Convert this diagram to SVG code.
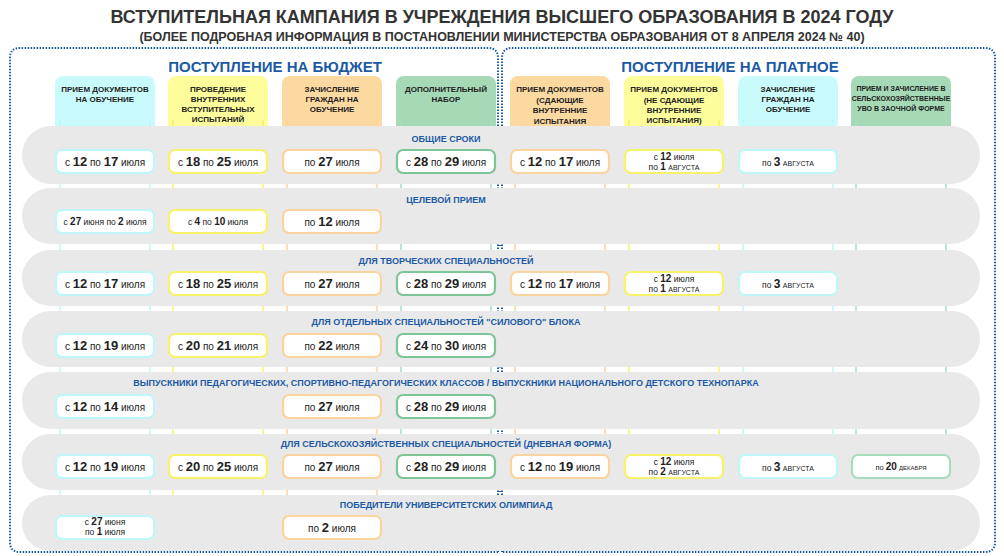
<svg xmlns="http://www.w3.org/2000/svg" width="1004" height="556" viewBox="0 0 1004 556">
<style>
text{font-family:"Liberation Sans",Arial,sans-serif;fill:#222}
.t1{font-size:18px;font-weight:bold;fill:#333}
.t2{font-size:12.5px;font-weight:bold;fill:#333}
.sec{font-size:15px;font-weight:bold;fill:#1c5aa6}
.hd{font-size:8px;font-weight:bold;text-anchor:middle}
.rt{font-size:9px;font-weight:bold;fill:#1c5aa6;text-anchor:middle}
.band{fill:#e9e9e9}
.b{fill:#fff;stroke-width:2.2}
.c{stroke:#bff6f8}.y{stroke:#f6f26a}.o{stroke:#fbd39e}.g{stroke:#7cc597}.gl{stroke:#a9dcbc}
.d{font-size:10px;text-anchor:middle}
.d tspan.n{font-size:13px;font-weight:bold}
.s{font-size:8.5px;text-anchor:middle}
.s tspan.n{font-size:10px;font-weight:bold}
.m{font-size:7px}
.vl{stroke-width:1.5}
.dot{fill:none;stroke:#1c5aa6;stroke-width:2;stroke-dasharray:1.5 1.5}
</style>
<rect width="1004" height="556" fill="#fff"/>
<text class="t1" x="502" y="23" text-anchor="middle">ВСТУПИТЕЛЬНАЯ КАМПАНИЯ В УЧРЕЖДЕНИЯ ВЫСШЕГО ОБРАЗОВАНИЯ В 2024 ГОДУ</text>
<text class="t2" x="502" y="41" text-anchor="middle">(БОЛЕЕ ПОДРОБНАЯ ИНФОРМАЦИЯ В ПОСТАНОВЛЕНИИ МИНИСТЕРСТВА ОБРАЗОВАНИЯ ОТ 8 АПРЕЛЯ 2024 № 40)</text>
<g id="panels">
<path class="dot" d="M498 552 V58 Q498 48 488 48 H20 Q10 48 10 58 V542 Q10 552 20 552 H498"/>
<path class="dot" d="M502 552 V58 Q502 48 512 48 H985 Q995 48 995 58 V542 Q995 552 985 552 H502"/>
<text class="sec" x="275" y="72" text-anchor="middle">ПОСТУПЛЕНИЕ НА БЮДЖЕТ</text>
<text class="sec" x="730" y="72" text-anchor="middle">ПОСТУПЛЕНИЕ НА ПЛАТНОЕ</text>
</g>
<g id="headers">
<g id="h1"><rect x="55" y="76" width="100" height="70" rx="8" fill="#c9fbfc"/><line class="vl c" x1="60" y1="120" x2="60" y2="540"/><line class="vl c" x1="150" y1="120" x2="150" y2="540"/><text class="hd" x="105" y="92">ПРИЕМ ДОКУМЕНТОВ<tspan x="105" dy="10">НА ОБУЧЕНИЕ</tspan></text></g>
<g id="h2"><rect x="168" y="76" width="100" height="70" rx="8" fill="#fdfd9c"/><line class="vl y" x1="173" y1="120" x2="173" y2="500"/><line class="vl y" x1="263" y1="120" x2="263" y2="500"/><text class="hd" x="218" y="92">ПРОВЕДЕНИЕ<tspan x="218" dy="10">ВНУТРЕННИХ</tspan><tspan x="218" dy="10">ВСТУПИТЕЛЬНЫХ</tspan><tspan x="218" dy="10">ИСПЫТАНИЙ</tspan></text></g>
<g id="h3"><rect x="282" y="76" width="100" height="70" rx="8" fill="#fdd9a2"/><line class="vl o" x1="287" y1="120" x2="287" y2="540"/><line class="vl o" x1="377" y1="120" x2="377" y2="540"/><text class="hd" x="332" y="92">ЗАЧИСЛЕНИЕ<tspan x="332" dy="10">ГРАЖДАН НА</tspan><tspan x="332" dy="10">ОБУЧЕНИЕ</tspan></text></g>
<g id="h4"><rect x="396" y="76" width="100" height="70" rx="8" fill="#a6d9b6"/><line class="vl gl" x1="401" y1="120" x2="401" y2="480"/><line class="vl gl" x1="491" y1="120" x2="491" y2="480"/><text class="hd" x="446" y="92">ДОПОЛНИТЕЛЬНЫЙ<tspan x="446" dy="10">НАБОР</tspan></text></g>
<g id="h5"><rect x="510" y="76" width="100" height="70" rx="8" fill="#fdd9a2"/><line class="vl o" x1="515" y1="120" x2="515" y2="480"/><line class="vl o" x1="605" y1="120" x2="605" y2="480"/><text class="hd" x="560" y="92">ПРИЕМ ДОКУМЕНТОВ<tspan x="560" dy="11">(СДАЮЩИЕ</tspan><tspan x="560" dy="10">ВНУТРЕННИЕ</tspan><tspan x="560" dy="11">ИСПЫТАНИЯ</tspan></text></g>
<g id="h6"><rect x="624" y="76" width="100" height="70" rx="8" fill="#fdfd9c"/><line class="vl y" x1="629" y1="120" x2="629" y2="480"/><line class="vl y" x1="719" y1="120" x2="719" y2="480"/><text class="hd" x="674" y="92">ПРИЕМ ДОКУМЕНТОВ<tspan x="674" dy="11">(НЕ СДАЮЩИЕ</tspan><tspan x="674" dy="10">ВНУТРЕННИЕ</tspan><tspan x="674" dy="10">ИСПЫТАНИЯ)</tspan></text></g>
<g id="h7"><rect x="738" y="76" width="100" height="70" rx="8" fill="#c9fbfc"/><line class="vl c" x1="743" y1="120" x2="743" y2="480"/><line class="vl c" x1="833" y1="120" x2="833" y2="480"/><text class="hd" x="788" y="92">ЗАЧИСЛЕНИЕ<tspan x="788" dy="10">ГРАЖДАН НА</tspan><tspan x="788" dy="10">ОБУЧЕНИЕ</tspan></text></g>
<g id="h8"><rect x="851" y="76" width="100" height="70" rx="8" fill="#a6d9b6"/><line class="vl gl" x1="856" y1="120" x2="856" y2="480"/><line class="vl gl" x1="946" y1="120" x2="946" y2="480"/><text class="hd" x="901" y="91" style="font-size:7px">ПРИЕМ И ЗАЧИСЛЕНИЕ В<tspan x="901" dy="10">СЕЛЬСКОХОЗЯЙСТВЕННЫЕ</tspan><tspan x="901" dy="10">УВО  В ЗАОЧНОЙ ФОРМЕ</tspan></text></g>
</g>
<g id="connectors">
<path class="dot" d="M500 236 V246 M500 360 V369 M500 482 V492"/>
</g>
<g id="row1"><rect class="band" x="22" y="126" width="958" height="58" rx="29"/><text class="rt" x="446" y="142">ОБЩИЕ СРОКИ</text>
<rect class="b c" x="56" y="150" width="98" height="23" rx="6"/><text class="d" x="105" y="166">с <tspan class="n">12</tspan> по <tspan class="n">17</tspan> июля</text>
<rect class="b y" x="169" y="150" width="98" height="23" rx="6"/><text class="d" x="218" y="166">с <tspan class="n">18</tspan> по <tspan class="n">25</tspan> июля</text>
<rect class="b o" x="283" y="150" width="98" height="23" rx="6"/><text class="d" x="332" y="166">по <tspan class="n">27</tspan> июля</text>
<rect class="b g" x="397" y="150" width="98" height="23" rx="6"/><text class="d" x="446" y="166">с <tspan class="n">28</tspan> по <tspan class="n">29</tspan> июля</text>
<rect class="b o" x="511" y="150" width="98" height="23" rx="6"/><text class="d" x="560" y="166">с <tspan class="n">12</tspan> по <tspan class="n">17</tspan> июля</text>
<rect class="b y" x="625" y="150" width="98" height="23" rx="6"/><text class="s" x="674" y="160">с <tspan class="n">12</tspan> июля<tspan x="674" dy="10">по </tspan><tspan class="n">1</tspan> <tspan class="m">АВГУСТА</tspan></text>
<rect class="b c" x="739" y="150" width="98" height="23" rx="6"/><text class="s" x="788" y="166">по <tspan class="n" style="font-size:12px">3</tspan> <tspan class="m">АВГУСТА</tspan></text>
</g>
<g id="row2"><rect class="band" x="22" y="188" width="958" height="56" rx="28"/><text class="rt" x="446" y="203">ЦЕЛЕВОЙ ПРИЕМ</text>
<rect class="b c" x="56" y="210" width="98" height="23" rx="6"/><text class="s" x="105" y="225">с <tspan class="n">27</tspan> июня по <tspan class="n">2</tspan> июля</text>
<rect class="b y" x="169" y="210" width="98" height="23" rx="6"/><text class="s" x="218" y="225">с <tspan class="n">4</tspan>  по <tspan class="n">10</tspan> июля</text>
<rect class="b o" x="283" y="210" width="98" height="23" rx="6"/><text class="d" x="332" y="226">по <tspan class="n">12</tspan> июля</text>
</g>
<g id="row3"><rect class="band" x="22" y="250" width="958" height="56" rx="28"/><text class="rt" x="446" y="264">ДЛЯ ТВОРЧЕСКИХ СПЕЦИАЛЬНОСТЕЙ</text>
<rect class="b c" x="56" y="272" width="98" height="23" rx="6"/><text class="d" x="105" y="288">с <tspan class="n">12</tspan> по <tspan class="n">17</tspan> июля</text>
<rect class="b y" x="169" y="272" width="98" height="23" rx="6"/><text class="d" x="218" y="288">с <tspan class="n">18</tspan> по <tspan class="n">25</tspan> июля</text>
<rect class="b o" x="283" y="272" width="98" height="23" rx="6"/><text class="d" x="332" y="288">по <tspan class="n">27</tspan> июля</text>
<rect class="b g" x="397" y="272" width="98" height="23" rx="6"/><text class="d" x="446" y="288">с <tspan class="n">28</tspan> по <tspan class="n">29</tspan> июля</text>
<rect class="b o" x="511" y="272" width="98" height="23" rx="6"/><text class="d" x="560" y="288">с <tspan class="n">12</tspan> по <tspan class="n">17</tspan> июля</text>
<rect class="b y" x="625" y="272" width="98" height="23" rx="6"/><text class="s" x="674" y="282">с <tspan class="n">12</tspan> июля<tspan x="674" dy="10">по </tspan><tspan class="n">1</tspan> <tspan class="m">АВГУСТА</tspan></text>
<rect class="b c" x="739" y="272" width="98" height="23" rx="6"/><text class="s" x="788" y="288">по <tspan class="n" style="font-size:12px">3</tspan> <tspan class="m">АВГУСТА</tspan></text>
</g>
<g id="row4"><rect class="band" x="22" y="311" width="958" height="56" rx="28"/><text class="rt" x="446" y="325">ДЛЯ ОТДЕЛЬНЫХ СПЕЦИАЛЬНОСТЕЙ "СИЛОВОГО" БЛОКА</text>
<rect class="b c" x="56" y="334" width="98" height="23" rx="6"/><text class="d" x="105" y="350">с <tspan class="n">12</tspan> по <tspan class="n">19</tspan> июля</text>
<rect class="b y" x="169" y="334" width="98" height="23" rx="6"/><text class="d" x="218" y="350">с <tspan class="n">20</tspan> по <tspan class="n">21</tspan> июля</text>
<rect class="b o" x="283" y="334" width="98" height="23" rx="6"/><text class="d" x="332" y="350">по <tspan class="n">22</tspan> июля</text>
<rect class="b g" x="397" y="334" width="98" height="23" rx="6"/><text class="d" x="446" y="350">с <tspan class="n">24</tspan> по <tspan class="n">30</tspan> июля</text>
</g>
<g id="row5"><rect class="band" x="22" y="372" width="958" height="57" rx="28"/><text class="rt" x="446" y="386">ВЫПУСКНИКИ ПЕДАГОГИЧЕСКИХ, СПОРТИВНО-ПЕДАГОГИЧЕСКИХ КЛАССОВ / ВЫПУСКНИКИ НАЦИОНАЛЬНОГО ДЕТСКОГО ТЕХНОПАРКА</text>
<rect class="b c" x="56" y="395" width="98" height="23" rx="6"/><text class="d" x="105" y="411">с <tspan class="n">12</tspan> по <tspan class="n">14</tspan> июля</text>
<rect class="b o" x="283" y="395" width="98" height="23" rx="6"/><text class="d" x="332" y="411">по <tspan class="n">27</tspan> июля</text>
<rect class="b g" x="397" y="395" width="98" height="23" rx="6"/><text class="d" x="446" y="411">с <tspan class="n">28</tspan> по <tspan class="n">29</tspan> июля</text>
</g>
<g id="row6"><rect class="band" x="22" y="434" width="958" height="56" rx="28"/><text class="rt" x="446" y="447">ДЛЯ СЕЛЬСКОХОЗЯЙСТВЕННЫХ СПЕЦИАЛЬНОСТЕЙ (ДНЕВНАЯ ФОРМА)</text>
<rect class="b c" x="56" y="455" width="98" height="23" rx="6"/><text class="d" x="105" y="471">с <tspan class="n">12</tspan> по <tspan class="n">19</tspan> июля</text>
<rect class="b y" x="169" y="455" width="98" height="23" rx="6"/><text class="d" x="218" y="471">с <tspan class="n">20</tspan> по <tspan class="n">25</tspan> июля</text>
<rect class="b o" x="283" y="455" width="98" height="23" rx="6"/><text class="d" x="332" y="471">по <tspan class="n">27</tspan> июля</text>
<rect class="b g" x="397" y="455" width="98" height="23" rx="6"/><text class="d" x="446" y="471">с <tspan class="n">28</tspan> по <tspan class="n">29</tspan> июля</text>
<rect class="b o" x="511" y="455" width="98" height="23" rx="6"/><text class="d" x="560" y="471">с <tspan class="n">12</tspan> по <tspan class="n">19</tspan> июля</text>
<rect class="b y" x="625" y="455" width="98" height="23" rx="6"/><text class="s" x="674" y="465">с <tspan class="n">12</tspan> июля<tspan x="674" dy="10">по </tspan><tspan class="n">2</tspan> <tspan class="m">АВГУСТА</tspan></text>
<rect class="b c" x="739" y="455" width="98" height="23" rx="6"/><text class="s" x="788" y="471">по <tspan class="n" style="font-size:12px">3</tspan> <tspan class="m">АВГУСТА</tspan></text>
<rect class="b gl" x="852" y="455" width="98" height="23" rx="6"/><text class="s" x="901" y="470" style="font-size:7.5px">по <tspan class="n">20</tspan> <tspan class="m" style="font-size:6px">ДЕКАБРЯ</tspan></text>
</g>
<g id="row7"><rect class="band" x="22" y="495" width="958" height="56" rx="28"/><text class="rt" x="446" y="508">ПОБЕДИТЕЛИ УНИВЕРСИТЕТСКИХ ОЛИМПИАД</text>
<rect class="b c" x="56" y="516" width="98" height="23" rx="6"/><text class="s" x="105" y="525">с <tspan class="n">27</tspan> июня<tspan x="105" dy="10">по </tspan><tspan class="n">1</tspan> июля</text>
<rect class="b o" x="283" y="516" width="98" height="23" rx="6"/><text class="d" x="332" y="532">по <tspan class="n">2</tspan> июля</text>
</g>
</svg>
